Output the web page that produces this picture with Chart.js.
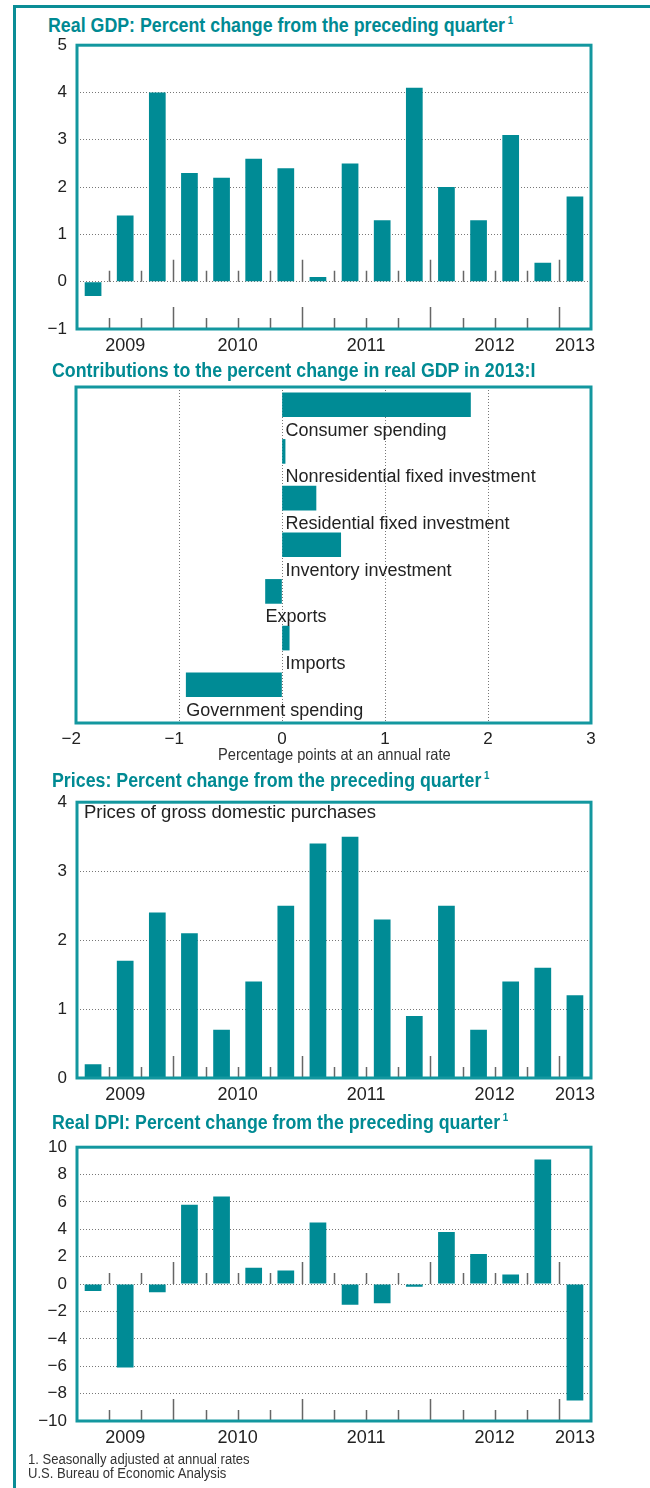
<!DOCTYPE html>
<html>
<head>
<meta charset="utf-8">
<script src="https://cdn.jsdelivr.net/npm/chart.js@4.4.1/dist/chart.umd.min.js"></script>
<style>
  body { margin: 0; background: #fff; width: 650px; height: 1488px; position: relative; overflow: hidden;
         font-family: "Liberation Sans", Arial, sans-serif; }
  .frame { position: absolute; left: 13px; top: 5px; width: 700px; height: 1600px;
           border-left: 3px solid #0a8d96; border-top: 3px solid #0a8d96; }
  .ttl { position: absolute; font-weight: bold; color: #008a93; font-size: 20px; line-height: 20px;
         white-space: nowrap; transform: scaleX(0.89); transform-origin: 0 0; }
  .ttl span { font-size: 11px; line-height: 0; position: relative; top: -8px; margin-left: 3px; }
  .narrow { position: absolute; color: #333; white-space: nowrap; transform: scaleX(0.89); transform-origin: 0 0; }
  .note { left: 28px; font-size: 14.7px; line-height: 14.7px; }
  canvas { position: absolute; left: 0; }
</style>
</head>
<body>
<div class="frame"></div>

<div class="ttl" style="left:48px;top:15px">Real GDP: Percent change from the preceding quarter<span>1</span></div>
<canvas id="gdpChart" width="650" height="340" style="top:25px"></canvas>

<div class="ttl" style="left:52px;top:360px">Contributions to the percent change in real GDP in 2013:I</div>
<canvas id="contribChart" width="650" height="370" style="top:377px"></canvas>
<div class="narrow" style="left:218px;top:746px;font-size:16.5px;line-height:16.5px">Percentage points at an annual rate</div>

<div class="ttl" style="left:52px;top:770px">Prices: Percent change from the preceding quarter<span>1</span></div>
<canvas id="priceChart" width="650" height="332" style="top:782px"></canvas>

<div class="ttl" style="left:52px;top:1112px">Real DPI: Percent change from the preceding quarter<span>1</span></div>
<canvas id="dpiChart" width="650" height="330" style="top:1127px"></canvas>

<div class="narrow note" style="top:1452px">1. Seasonally adjusted at annual rates</div>
<div class="narrow note" style="top:1466px">U.S. Bureau of Economic Analysis</div>

<script>
// quarters shown: 2009:II - 2013:I
const quarters = ['2009 Q2', '2009 Q3', '2009 Q4',
                  '2010 Q1', '2010 Q2', '2010 Q3', '2010 Q4',
                  '2011 Q1', '2011 Q2', '2011 Q3', '2011 Q4',
                  '2012 Q1', '2012 Q2', '2012 Q3', '2012 Q4',
                  '2013 Q1'];

const gdpChange   = [-0.3, 1.4, 4.0, 2.3, 2.2, 2.6, 2.4, 0.1, 2.5, 1.3, 4.1, 2.0, 1.3, 3.1, 0.4, 1.8];
const priceChange = [0.2, 1.7, 2.4, 2.1, 0.7, 1.4, 2.5, 3.4, 3.5, 2.3, 0.9, 2.5, 0.7, 1.4, 1.6, 1.2];
const dpiChange   = [-0.5, -6.1, -0.6, 5.8, 6.4, 1.2, 1.0, 4.5, -1.5, -1.4, -0.2, 3.8, 2.2, 0.7, 9.1, -8.5];

const components = ['Consumer spending', 'Nonresidential fixed investment', 'Residential fixed investment',
                    'Inventory investment', 'Exports', 'Imports', 'Government spending'];
const contributions = [1.83, 0.03, 0.33, 0.57, -0.16, 0.07, -0.93];

// [min, max, step]
const gdpAxis   = [-1, 5, 1];
const priceAxis = [0, 4, 1];
const dpiAxis   = [-10, 10, 2];
const contribAxis = [-2, 3, 1];

const TEAL = '#008b95';
const BOX = '#13979f';
const INK = '#222';
const FONT = '"Liberation Sans", Arial, sans-serif';

// year label sits in the middle of its quarters
const years = [];
const yearPos = [];
quarters.forEach((q, i) => {
    const y = q.slice(0, 4);
    let k = years.indexOf(y);
    if (k < 0) { years.push(y); yearPos.push([]); k = years.length - 1; }
    yearPos[k].push(i);
});
const yearCenters = yearPos.map(a => (a[0] + a[a.length - 1]) / 2);

function minus(v) {
    return String(v).replace('-', '\u2212');
}

// teal box around the plot area
const boxPlugin = {
    id: 'box',
    afterDraw(chart) {
        const a = chart.chartArea;
        const ctx = chart.ctx;
        ctx.save();
        ctx.strokeStyle = BOX;
        ctx.lineWidth = 3;
        ctx.strokeRect(a.left, a.top, a.right - a.left, a.bottom - a.top);
        ctx.restore();
    }
};

// quarter separators, long ones between years
const quarterTicks = {
    id: 'quarterTicks',
    afterDatasetsDraw(chart) {
        const a = chart.chartArea;
        const xs = chart.scales.x;
        const ys = chart.scales.y;
        const ctx = chart.ctx;
        const zero = ys.getPixelForValue(0);
        ctx.save();
        ctx.strokeStyle = '#666';
        ctx.lineWidth = 1.5;
        for (let i = 0; i < quarters.length - 1; i++) {
            const x = Math.round((xs.getPixelForValue(i) + xs.getPixelForValue(i + 1)) / 2) + 0.5;
            const len = quarters[i].slice(0, 4) !== quarters[i + 1].slice(0, 4) ? 22 : 11;
            ctx.beginPath();
            ctx.moveTo(x, a.bottom);
            ctx.lineTo(x, a.bottom - len);
            if (zero < a.bottom - 2) {
                ctx.moveTo(x, zero);
                ctx.lineTo(x, zero - len);
            }
            ctx.stroke();
        }
        ctx.restore();
    }
};

function quarterChart(id, values, axis, inset) {
    const plugins = [quarterTicks, boxPlugin];
    if (inset) {
        plugins.push({
            id: 'inset',
            afterDraw(chart) {
                const ctx = chart.ctx;
                ctx.save();
                ctx.font = '18.5px ' + FONT;
                ctx.fillStyle = INK;
                ctx.textBaseline = 'alphabetic';
                ctx.fillText(inset, chart.chartArea.left + 7, chart.chartArea.top + 16);
                ctx.restore();
            }
        });
    }
    return new Chart(document.getElementById(id), {
        type: 'bar',
        data: {
            labels: quarters,
            datasets: [{
                data: values,
                backgroundColor: TEAL,
                borderWidth: 0,
                categoryPercentage: 1,
                barPercentage: 0.52
            }]
        },
        options: {
            responsive: false,
            animation: false,
            layout: { padding: { left: 0, right: 59, top: 10, bottom: 0 } },
            plugins: { legend: { display: false }, tooltip: { enabled: false } },
            scales: {
                x: { type: 'category', display: false },
                yr: {
                    type: 'linear',
                    position: 'bottom',
                    offset: false,
                    min: -0.5,
                    max: quarters.length - 0.5,
                    afterBuildTicks: s => { s.ticks = yearCenters.map(v => ({ value: v })); },
                    afterFit: s => { s.height = 36; },
                    grid: { display: false, drawTicks: false, offset: false },
                    border: { display: false },
                    ticks: {
                        autoSkip: false,
                        maxRotation: 0,
                        padding: 6,
                        color: INK,
                        font: { family: FONT, size: 18 },
                        callback: (v, i) => years[i]
                    }
                },
                y: {
                    min: axis[0],
                    max: axis[1],
                    afterFit: s => { s.width = 77; },
                    grid: { color: '#777', lineWidth: 1, drawTicks: false },
                    border: { display: false, dash: [1, 2] },
                    ticks: {
                        stepSize: axis[2],
                        padding: 10,
                        color: INK,
                        font: { family: FONT, size: 17 },
                        callback: v => minus(v)
                    }
                }
            }
        },
        plugins: plugins
    });
}

quarterChart('gdpChart', gdpChange, gdpAxis);
quarterChart('priceChart', priceChange, priceAxis, 'Prices of gross domestic purchases');
quarterChart('dpiChart', dpiChange, dpiAxis);

// contributions: labels written under each bar
const barLabels = {
    id: 'barLabels',
    afterDatasetsDraw(chart) {
        const meta = chart.getDatasetMeta(0);
        const ctx = chart.ctx;
        ctx.save();
        ctx.font = '18px ' + FONT;
        ctx.fillStyle = INK;
        ctx.textBaseline = 'alphabetic';
        meta.data.forEach((bar, i) => {
            const p = bar.getProps(['x', 'y', 'base', 'height'], true);
            const left = Math.min(p.x, p.base) + (contributions[i] >= 0 ? 3 : 0);
            ctx.fillText(components[i], left, p.y + p.height / 2 + 19);
        });
        ctx.restore();
    }
};

new Chart(document.getElementById('contribChart'), {
    type: 'bar',
    data: {
        datasets: [{
            data: contributions.map((v, i) => ({ x: v, y: i })),
            backgroundColor: TEAL,
            borderWidth: 0,
            barThickness: 24
        }]
    },
    options: {
        indexAxis: 'y',
        responsive: false,
        animation: false,
        layout: { padding: { left: 76, right: 59, top: 10, bottom: 0 } },
        plugins: { legend: { display: false }, tooltip: { enabled: false } },
        scales: {
            y: {
                type: 'linear', reverse: true, offset: false,
                min: -0.38, max: components.length - 0.18,
                display: false, grid: { offset: false }
            },
            x: {
                type: 'linear',
                min: contribAxis[0],
                max: contribAxis[1],
                afterFit: s => { s.height = 24; },
                grid: { color: '#777', lineWidth: 1, drawTicks: false },
                border: { display: false, dash: [1, 2] },
                ticks: {
                    stepSize: contribAxis[2],
                    padding: 6,
                    color: INK,
                    font: { family: FONT, size: 17 },
                    callback: v => v < 0 ? minus(v) + '\u2007' : String(v)
                }
            }
        }
    },
    plugins: [barLabels, boxPlugin]
});
</script>
</body>
</html>
